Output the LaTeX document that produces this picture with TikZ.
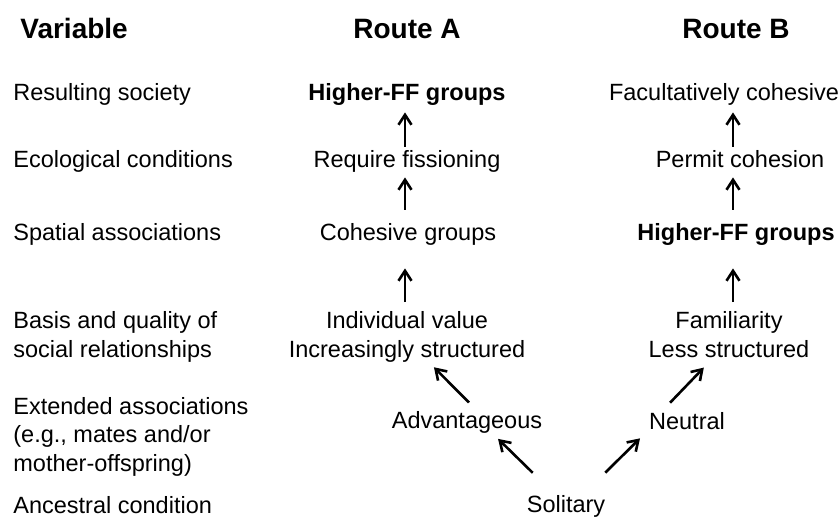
\documentclass[tikz,border=0pt]{standalone}
\usepackage{fontspec}
\setmainfont{Liberation Sans}
\usepackage{tikz}
\usetikzlibrary{calc}
\usetikzlibrary{positioning}
\usetikzlibrary{arrows.meta}

\begin{document}
\begin{tikzpicture}[x=0.5pt, y=-0.5pt, every text node part/.style={align=center},
  txt/.style={inner sep=0pt, anchor=base, font=\fontsize{11.75pt}{14.25pt}\selectfont},
  one/.style={txt, text height=8.5pt, text depth=3pt},
  bold/.style={one, font=\fontsize{11.75pt}{14.25pt}\selectfont\bfseries},
  head/.style={inner sep=0pt, anchor=base, font=\fontsize{14pt}{17pt}\selectfont\bfseries},
  var/.style={txt, anchor=base west, every text node part/.style={align=left}},
  arr/.style={line width=1.3pt, -{Straight Barb[length=5pt,width=6.5pt]}},
  upper/.style={arr, shorten <=1.5pt, shorten >=3pt},
  middle/.style={arr, shorten <=6.5pt, shorten >=2pt},
  lower/.style={arr, shorten <=4.5pt, shorten >=11pt}]
\useasboundingbox (0,0) rectangle (840,516);

\node (variable) [head, anchor=base west] at (20,38) {Variable};
\node (routeA) [head] at (407,38) {Route A};
\node (routeB) [head] at (736,38) {Route B};

% multi-line nodes sit on the baseline of their last line
\node (society) [var] at (13,100) {Resulting society};
\node (ecology) [var] at (13,167) {Ecological conditions};
\node (spatial) [var] at (13,240) {Spatial associations};
\node (basis) [var] at (13,357) {Basis and quality of\\social relationships};
\node (extended) [var] at (13,471) {Extended associations\\(e.g., mates and/or\\mother-offspring)};
\node (ancestral) [var] at (13,513) {Ancestral condition};

\node (highA) [bold] at (407,100) {Higher-FF groups};
\node (reqA) [one] at (407,167) {Require fissioning};
\node (cohA) [one] at (408,240) {Cohesive groups};
\node (indA) [txt] at (407,357) {Individual value\\Increasingly structured};

\node (factB) [one] at (724,100) {Facultatively cohesive};
\node (permB) [one] at (740,167) {Permit cohesion};
\node (highB) [bold] at (736,240) {Higher-FF groups};
\node (famB) [txt] at (729,357) {Familiarity\\Less structured};

\node (adv) [one] at (467,428) {Advantageous};
\node (neut) [one] at (687,429) {Neutral};
\node (sol) [one] at (566,512) {Solitary};

\coordinate (colA) at (405,0);
\coordinate (colB) at (733,0);

\draw [upper] (colA |- reqA.north) -- (colA |- highA.south);
\draw [middle] (colA |- cohA.north) -- (colA |- reqA.south);
\draw [lower] (colA |- indA.north) -- (colA |- cohA.south);
\draw [upper] (colB |- permB.north) -- (colB |- factB.south);
\draw [middle] (colB |- highB.north) -- (colB |- permB.south);
\draw [lower] (colB |- famB.north) -- (colB |- highB.south);

\draw [arr, shorten <=15.6pt, shorten >=3.2pt] ($(sol.north)+(-11,0)$) -- ($(adv.south)+(26.5,0)$);
\draw [arr, shorten <=5.7pt, shorten >=3.5pt] ($(adv.north)+(10,0)$) -- ($(indA.south)+(22,0)$);
\draw [arr, shorten <=15.6pt, shorten >=2.1pt] ($(sol.north)+(17,0)$) -- ($(neut.south)+(-44,0)$);
\draw [arr, shorten <=6.2pt, shorten >=6.9pt] ($(neut.north)+(-25.5,0)$) -- ($(famB.south)+(-15.6,0)$);

\end{tikzpicture}
\end{document}
